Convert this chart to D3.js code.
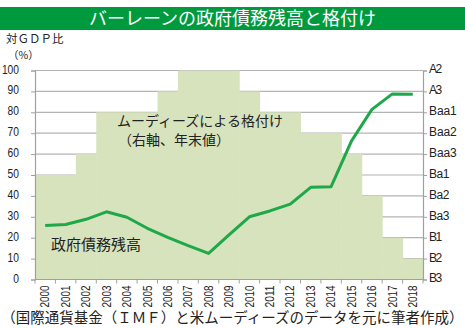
<!DOCTYPE html>
<html><head><meta charset="utf-8">
<script src="https://cdn.jsdelivr.net/npm/d3@7"></script>
<style>
body{margin:0;background:#fff;}
svg{display:block;}
.jp{font-family:"Noto Sans CJK JP","Noto Sans CJK SC",sans-serif;}
.nar{font-family:"Liberation Sans","Arial",sans-serif;}
</style></head>
<body>
<script>
const years = ["2000","2001","2002","2003","2004","2005","2006","2007","2008","2009","2010","2011","2012","2013","2014","2015","2016","2017","2018"];
const debt = [25.8, 26.3, 28.8, 32.4, 29.8, 24.5, 20.2, 16.2, 12.5, 21.3, 30, 32.8, 36.1, 44.1, 44.4, 66.3, 81.4, 88.8, 88.6];
// rating level on the right axis (index into ratingLabels, 0 = B3)
const ratingLabels = ["B3","B2","B1","Ba3","Ba2","Ba1","Baa3","Baa2","Baa1","A3","A2"];
const ratingIdx = [5, 5, 6, 8, 8, 8, 9, 10, 10, 10, 9, 8, 8, 7, 7, 6, 4, 2, 1];
const leftTicks = [0,10,20,30,40,50,60,70,80,90,100];

const W = 465, H = 328;
const L = 35, R = 423, T = 70.5, B = 279.5;
const svg = d3.select("body").append("svg").attr("width", W).attr("height", H);

const x = d3.scaleBand().domain(years).range([L, R]).padding(0);
const y = d3.scaleLinear().domain([0, 100]).range([B, T]);
const yr = d3.scaleLinear().domain([0, ratingLabels.length - 1]).range([B, T]);

// title banner
svg.append("rect").attr("x", 0).attr("y", 7).attr("width", W).attr("height", 23).attr("fill", "#009a3e");
svg.append("text").attr("class", "jp").attr("x", W / 2).attr("y", 19).attr("dy", "0.35em")
  .attr("text-anchor", "middle").attr("fill", "#fff").attr("font-size", 18).text("バーレーンの政府債務残高と格付け");

// left axis unit
svg.append("text").attr("class", "jp").attr("fill", "#222").attr("x", 6).attr("y", 43)
  .attr("font-size", 11.5).text("対ＧＤＰ比");
svg.append("text").attr("class", "jp").attr("fill", "#222").attr("x", 8).attr("y", 58.5)
  .attr("font-size", 10.5).text("（%）");

// gridlines
svg.append("g").selectAll("line").data(leftTicks).join("line")
  .attr("x1", L).attr("x2", R).attr("y1", d => y(d)).attr("y2", d => y(d))
  .attr("stroke", "#b4b4b4").attr("stroke-width", 1.2);

// rating bars
svg.append("g").selectAll("rect").data(years).join("rect")
  .attr("x", d => x(d)).attr("width", x.bandwidth() + 0.5)
  .attr("y", (d, i) => yr(ratingIdx[i])).attr("height", (d, i) => B - yr(ratingIdx[i]))
  .attr("fill", "#d7e3bd");

// axes
const gL = svg.append("g").attr("transform", `translate(${L},0)`)
  .call(d3.axisLeft(y).tickValues(leftTicks).tickSize(4).tickPadding(12));
const gR = svg.append("g").attr("transform", `translate(${R},0)`)
  .call(d3.axisRight(yr).tickValues(d3.range(ratingLabels.length)).tickFormat(i => ratingLabels[i]).tickSize(4).tickPadding(2));
const xTickPos = years.map(d => x(d)).concat([R]);
const gB = svg.append("g").attr("transform", `translate(0,${B})`);
gB.append("line").attr("x1", L).attr("x2", R).attr("stroke", "#a0a0a0");
gB.selectAll("line.t").data(xTickPos).join("line").attr("class", "t")
  .attr("x1", d => d).attr("x2", d => d).attr("y1", 0).attr("y2", 4).attr("stroke", "#a0a0a0");
gB.selectAll("text").data(years).join("text").attr("class", "nar")
  .attr("transform", d => `translate(${x(d) + x.bandwidth() / 2},6) rotate(-90)`)
  .attr("text-anchor", "end").attr("dy", "0.35em").attr("font-size", 12).attr("fill", "#222")
  .attr("textLength", 22).attr("lengthAdjust", "spacingAndGlyphs").text(d => d);

[gL, gR].forEach(g => {
  g.select(".domain").attr("stroke", "#a0a0a0").attr("stroke-width", 1.2);
  g.selectAll(".tick line").attr("stroke", "#a0a0a0");
  g.selectAll(".tick text").attr("class", "nar").attr("font-size", 12.5).attr("fill", "#222").attr("dy", "0.2em");
});
gL.selectAll(".tick text").attr("text-anchor", "end")
  .attr("textLength", d => String(d).length * 5.7).attr("lengthAdjust", "spacingAndGlyphs");
gR.selectAll(".tick text").attr("font-size", 12)
  .attr("textLength", i => ratingLabels[i].length * 7.3 - 1.5).attr("lengthAdjust", "spacing");

// debt line
const line = d3.line().x((d, i) => x(years[i]) + x.bandwidth() / 2).y(d => y(d));
svg.append("path").datum(debt).attr("d", line).attr("fill", "none")
  .attr("stroke", "#1ea84a").attr("stroke-width", 3).attr("stroke-linejoin", "round");

// annotations
svg.append("text").attr("class", "jp").attr("font-size", 14).attr("fill", "#222")
  .attr("x", 117).attr("y", 126).text("ムーディーズによる格付け");
svg.append("text").attr("class", "jp").attr("font-size", 14).attr("fill", "#222")
  .attr("x", 118).attr("y", 145).text("（右軸、年末値）");
svg.append("text").attr("class", "jp").attr("x", 51).attr("y", 245).attr("dy", "0.35em")
  .attr("font-size", 15).attr("fill", "#222").text("政府債務残高");

svg.append("text").attr("class", "jp").attr("x", W / 2).attr("y", 318).attr("dy", "0.35em")
  .attr("text-anchor", "middle").attr("font-size", 14.5).attr("fill", "#222")
  .text("（国際通貨基金（ＩＭＦ）と米ムーディーズのデータを元に筆者作成）");
</script>
</body></html>
